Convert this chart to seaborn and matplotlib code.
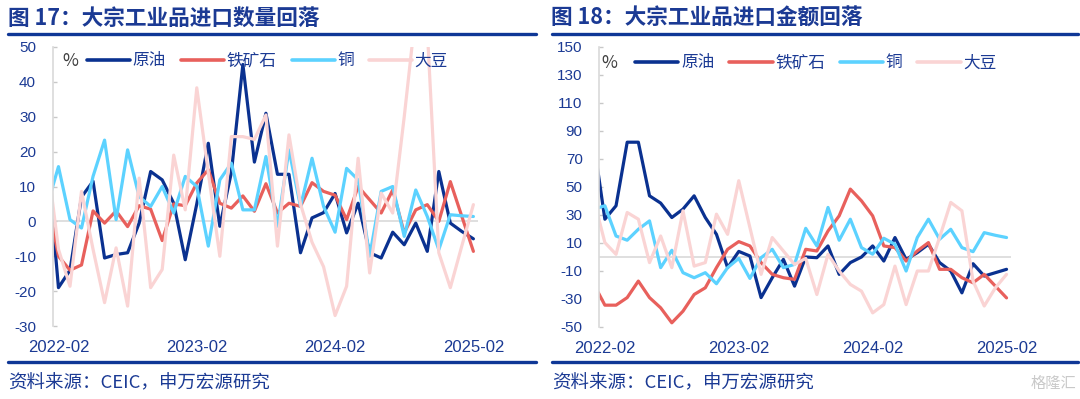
import numpy as np
import pandas as pd
import matplotlib
matplotlib.use("Agg")
import matplotlib.pyplot as plt
from matplotlib.lines import Line2D
import seaborn as sns

# ---------------- data ----------------
months = pd.date_range("2022-01-01", "2025-02-01", freq="MS").strftime("%Y-%m").tolist()
series_names = ["原油", "铁矿石", "铜", "大豆"]

# 图17 进口数量同比 (%)
crude_qty = [19, -19, -14, 7, 11.5, -10.5, -9.5, -9, -0.5, 14.3, 11.9, 5.2, -11, 5, 22.4, -1.4, 14, 45, 17, 31,
             13.5, 13.5, -9, 1, 2.5, 8, -3.3, 5.2, -9, -10.5, -3.1, -6.7, -0.5, -8.6, 14.3, -0.5, -2.9, -5]
ore_qty = [7.2, -10, -14, -12.5, 3, -0.5, 3, -1.5, 4.5, 3.5, -5.5, 5, 4.5, 11, 14.8, 5.2, 3.8, 7.3, 2.9, 10.8,
           2.4, 5.2, 4.3, 11.1, 8.6, 7.5, 0.5, 10, 6.2, 2.4, 9, -3.3, 3.3, 4.8, 0, 11.4, 1.4, -8.6]
copper_qty = [4.3, 15.7, 0.5, -1.9, 12.9, 23.3, 0.5, 20.5, 7.1, 4.3, 10, 2.4, 12.9, 10, -7.1, 11.9, 16.7, 3.3, 3.3, 18.6,
              -1.4, 20.5, 4.3, 18.1, 4.3, -3.1, 15.2, 11.9, -10, 8.6, 10, -4.3, 9, 1.4, -8.1, 1.9, 1.6, 1.4]
soy_qty = [18.4, -8, -18.6, 8.6, -8, -23.3, -7.6, -24.3, 12.4, -19, -13.8, 19, 3.3, 38.3, 14, -10, 24.3, 24.3, 23.5, 30.5,
           -7.1, 24.8, 5, -6, -13, -27, -18.6, 18.1, -14.8, 8.1, 2.4, 30, 60, 55, -9, -19, -7, 4.8]

# 图18 进口金额同比 (%)
crude_val = [82, 27, 36.6, 82, 82, 43.7, 38.5, 28.2, 34.2, 43.7, 28.2, 16.2, -7.6, 4, 0.7, -29, -14.8, -1.7, -20.8, 0,
             -0.5, 7.9, -12.4, -4, 0, 7.9, -2.9, 13.9, -1.7, 3.1, 9.1, -4, -10, -25.6, -4.8, -13.6, -11.2, -8.8]
ore_val = [-19.2, -34.4, -34.4, -29, -17.2, -29, -36.3, -47, -38.7, -26.8, -22, -7.6, 5.5, 11, 7.9, -4, -12.4, -14.8, -16, 5.5,
           4.3, 18.6, 29.4, 48.5, 40.1, 29.4, 7.9, 6.7, -2.9, 4.3, 10.3, -8.8, -8.8, -14.8, -18.4, -12.4, -20.8, -29.2]
copper_val = [34.2, 36.6, 15, 12, 19.8, 25.8, -7.6, 4.8, -11.2, -14.8, -11.2, -19.1, -7.6, -1, -15.3, -0.5, 5.5, -7.6, -5.3, 20.5,
              7.9, 35.4, 12, 27, 6.7, 2, 13.4, 9.1, -10, 13.9, 27, 12.7, 19.8, 6.7, 3.8, 17.4, 15.5, 13.9]
soy_val = [41.3, 10.3, 1.9, 31.8, 27, -4, 15, -7.6, 33, -6.5, -4, 30.6, 16.2, 54.5, 21, -12.4, 13.9, 4.3, -5.3, -1,
           -26.8, 1.9, -10, -19.6, -24.4, -39.9, -34, -6.5, -34, -10, -10, 14, 39, 33, -17.2, -35, -22, -12.4]

tick_months = ["2022-02", "2023-02", "2024-02", "2025-02"]

# ---------------- style ----------------
NAVY = "#1B3A94"
palette = {"原油": "#0A3190", "铁矿石": "#E8605C", "铜": "#5CD2FF", "大豆": "#FAD4D4"}

sns.set_theme(style="white")
plt.rcParams["font.family"] = ["Noto Sans CJK SC", "DejaVu Sans"]

fig = plt.figure(figsize=(10.8, 3.99), dpi=100)
W, H = 1080, 399


def fx(px):
    return px / W


def fy(py):
    return 1 - py / H


def make_df(vals):
    rows = []
    for name, v in zip(series_names, vals):
        for i, (m, y) in enumerate(zip(months, v)):
            rows.append({"idx": i, "month": m, "series": name, "value": y})
    return pd.DataFrame(rows)


def draw(rect, vals, ylim, yticks, leg_x, leg_y, pct_x):
    ax = fig.add_axes(rect)
    df = make_df(vals)
    sns.lineplot(data=df, x="idx", y="value", hue="series", hue_order=series_names,
                 palette=palette, linewidth=2.3, sort=False, ax=ax, legend=True)
    ax.axhline(0, color="#D9D9D9", lw=1.2, zorder=0.5)
    ax.set_xlim(0.5, 37.4)
    ax.set_ylim(*ylim)
    ax.set_yticks(yticks)
    ax.set_yticklabels([str(t) for t in yticks], family=["Liberation Sans", "DejaVu Sans"])
    pos = [months.index(m) for m in tick_months]
    ax.set_xticks(pos)
    ax.set_xticklabels(tick_months, family=["Liberation Sans", "DejaVu Sans"])
    ax.set_xlabel("")
    ax.set_ylabel("")
    for s in ["top", "right", "bottom"]:
        ax.spines[s].set_visible(False)
    ax.spines["left"].set_color("#D9D9D9")
    ax.spines["left"].set_linewidth(1.2)
    ax.tick_params(axis="y", direction="in", length=3, width=1, color="#C8C8C8",
                   labelcolor=NAVY, labelsize=11, pad=12, left=True)
    ax.tick_params(axis="x", length=0, labelcolor=NAVY, labelsize=12, pad=10)
    ax.grid(False)
    handles, labels = ax.get_legend_handles_labels()
    for h in handles:
        h.set_linewidth(2.6)
    ax.legend(handles, labels, loc="center left", bbox_to_anchor=(leg_x, leg_y), ncol=4,
              frameon=False, fontsize=12, handlelength=2.6, handletextpad=0.15,
              columnspacing=0.9, borderaxespad=0, borderpad=0, labelcolor=NAVY)
    ax.text(pct_x, leg_y, "%", transform=ax.transAxes, ha="left", va="center",
            fontsize=12.5, color="#404040")
    return ax


# left chart
l0, r0, t0, b0 = 52.7, 478, 47, 326
draw([fx(l0), fy(b0), fx(r0) - fx(l0), fy(t0) - fy(b0)],
     [crude_qty, ore_qty, copper_qty, soy_qty], (-30, 50), list(range(-30, 51, 10)),
     0.080, 0.95, 0.022)

# right chart
l1, r1, t1, b1 = 599.3, 1011, 47, 327
draw([fx(l1), fy(b1), fx(r1) - fx(l1), fy(t1) - fy(b1)],
     [crude_val, ore_val, copper_val, soy_val], (-50, 150), list(range(-50, 151, 20)),
     0.087, 0.943, 0.004)

# titles and rules
fig.text(fx(8), fy(18), "图 17：大宗工业品进口数量回落", ha="left", va="center",
         fontsize=15.6, fontweight="bold", color=NAVY)
fig.text(fx(551), fy(18), "图 18：大宗工业品进口金额回落", ha="left", va="center",
         fontsize=15.6, fontweight="bold", color=NAVY)
for x0, x1 in [(8, 536), (552, 1078)]:
    fig.add_artist(Line2D([fx(x0), fx(x1)], [fy(34), fy(34)], color="#0F3796", lw=2.4))
    fig.add_artist(Line2D([fx(x0), fx(x1)], [fy(362), fy(362)], color="#0F3796", lw=2.4))

fig.text(fx(8), fy(383), "资料来源：CEIC，申万宏源研究", ha="left", va="center",
         fontsize=13.3, color=NAVY)
fig.text(fx(552), fy(383), "资料来源：CEIC，申万宏源研究", ha="left", va="center",
         fontsize=13.3, color=NAVY)
fig.text(fx(1076), fy(383), "格隆汇", ha="right", va="center", fontsize=11, color="#C9C9C9")

fig.savefig("out.png", dpi=100)
